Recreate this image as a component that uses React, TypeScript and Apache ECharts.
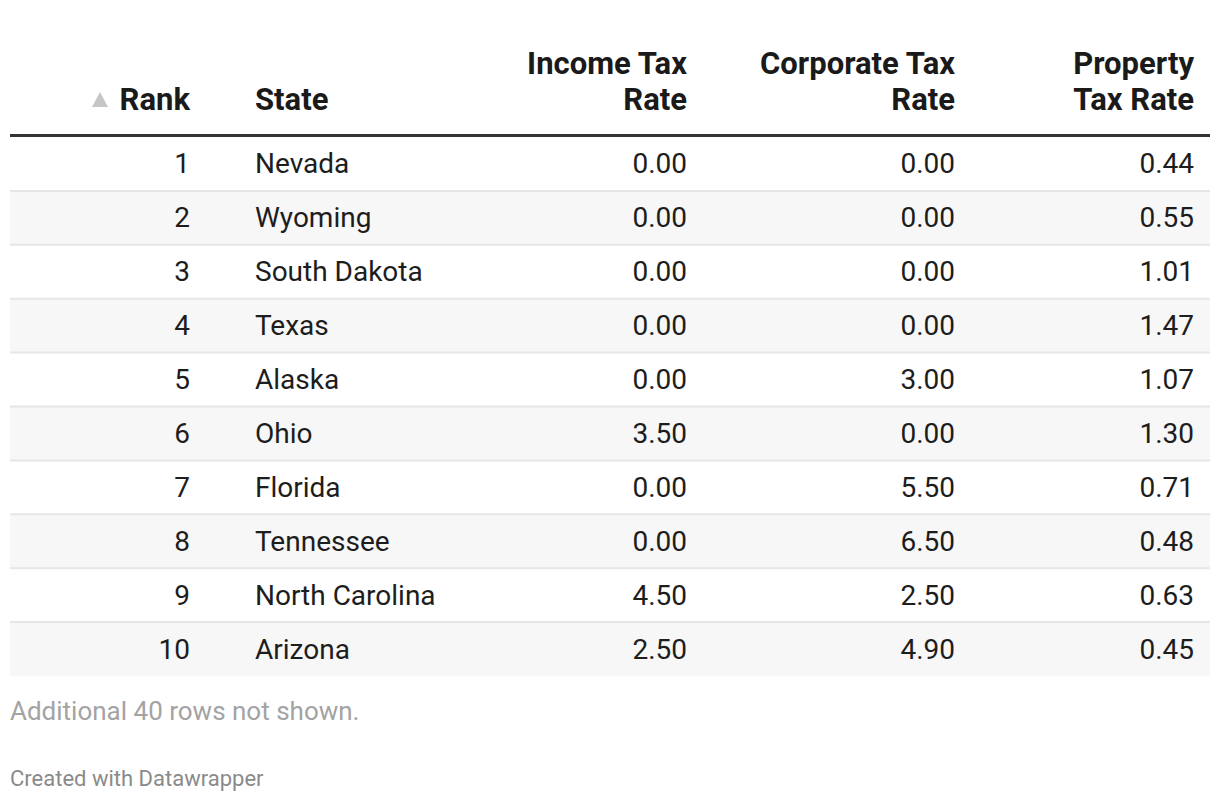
import React, { useEffect, useRef } from "react";
import * as echarts from "echarts";

const ranks = [1, 2, 3, 4, 5, 6, 7, 8, 9, 10];
const states = ["Nevada", "Wyoming", "South Dakota", "Texas", "Alaska", "Ohio", "Florida", "Tennessee", "North Carolina", "Arizona"];
const incomeTax = [0, 0, 0, 0, 0, 3.5, 0, 0, 4.5, 2.5];
const corporateTax = [0, 0, 0, 0, 3.0, 0, 5.5, 6.5, 2.5, 4.9];
const propertyTax = [0.44, 0.55, 1.01, 1.47, 1.07, 1.3, 0.71, 0.48, 0.63, 0.45];
const headers = [["Rank"], ["State"], ["Income Tax", "Rate"], ["Corporate Tax", "Rate"], ["Property", "Tax Rate"]];
const footnote = "Additional 40 rows not shown.";
const credit = "Created with Datawrapper";

// column anchors in table x-units (pixels from table left)
const colX = [180, 245, 677, 945, 1184];
const colAlign = ["right", "left", "right", "right", "right"];

const FONT = "Roboto, 'Noto Sans', sans-serif";
const BODY = 28;
const HEAD = 31;

export default function App() {
  const ref = useRef<HTMLDivElement>(null);
  useEffect(() => {
    if (!ref.current) return;
    const chart = echarts.init(ref.current, undefined, { renderer: "svg" });
    const rowsData = ranks.map((r, i) => [i, r, states[i], incomeTax[i], corporateTax[i], propertyTax[i]]);

    const headerGraphics: any[] = [];
    headers.forEach((lines, c) => {
      const n = lines.length;
      lines.forEach((t, k) => {
        headerGraphics.push({
          type: "text",
          x: 10 + colX[c],
          y: 99 - (n - 1 - k) * 36,
          style: {
            text: t,
            font: `bold ${HEAD}px ${FONT}`,
            fill: "#1a1a1a",
            textAlign: colAlign[c] as any,
            textVerticalAlign: "middle",
          },
        });
      });
    });

    chart.setOption({
      animation: false,
      backgroundColor: "#ffffff",
      grid: { left: 10, right: 10, top: 137, height: 539 },
      xAxis: { type: "value", min: 0, max: 1200, show: false },
      yAxis: { type: "category", data: ranks.map(String), inverse: true, show: false },
      graphic: [
        ...headerGraphics,
        {
          type: "polygon",
          shape: { points: [[92, 107], [108, 107], [100, 92]] },
          style: { fill: "#c6c6c6" },
        },
        { type: "rect", shape: { x: 10, y: 134, width: 1200, height: 3 }, style: { fill: "#333333" } },
        {
          type: "text",
          x: 10,
          y: 711,
          style: { text: footnote, font: `26px ${FONT}`, fill: "#a3a3a3", textVerticalAlign: "middle" },
        },
        {
          type: "text",
          x: 10,
          y: 778,
          style: { text: credit, font: `22px ${FONT}`, fill: "#8a8a8a", textVerticalAlign: "middle" },
        },
      ],
      series: [
        {
          type: "custom",
          name: "rows",
          data: rowsData,
          encode: { x: -1, y: 0 },
          renderItem: (params: any, api: any) => {
            const i = api.value(0);
            const p0 = api.coord([0, i]);
            const p1 = api.coord([1200, i]);
            const h = api.size([0, 1])[1];
            const top = p0[1] - h / 2;
            const children: any[] = [];
            if (i % 2 === 1) {
              children.push({
                type: "rect",
                shape: { x: p0[0], y: top, width: p1[0] - p0[0], height: h },
                style: { fill: "#f7f7f7" },
              });
            }
            if (i > 0) {
              children.push({
                type: "rect",
                shape: { x: p0[0], y: top - 1, width: p1[0] - p0[0], height: 2 },
                style: { fill: "#e6e6e6" },
              });
            }
            return { type: "group", children };
          },
          z: 1,
        },
        {
          type: "custom",
          name: "cells",
          data: rowsData,
          encode: { x: -1, y: 0 },
          renderItem: (params: any, api: any) => {
            const i = api.value(0);
            const vals = [
              String(api.value(1)),
              String(api.value(2)),
              Number(api.value(3)).toFixed(2),
              Number(api.value(4)).toFixed(2),
              Number(api.value(5)).toFixed(2),
            ];
            const children = vals.map((v, c) => {
              const p = api.coord([colX[c], i]);
              return {
                type: "text",
                x: p[0],
                y: p[1],
                style: {
                  text: v,
                  font: `${BODY}px ${FONT}`,
                  fill: "#1d1d1d",
                  textAlign: colAlign[c],
                  textVerticalAlign: "middle",
                },
              };
            });
            return { type: "group", children };
          },
          z: 2,
        },
      ],
    });
    return () => chart.dispose();
  }, []);
  return (
    <div
      ref={ref}
      style={{ position: "fixed", left: 0, top: 0, width: 1220, height: 802, background: "#fff" }}
    />
  );
}
